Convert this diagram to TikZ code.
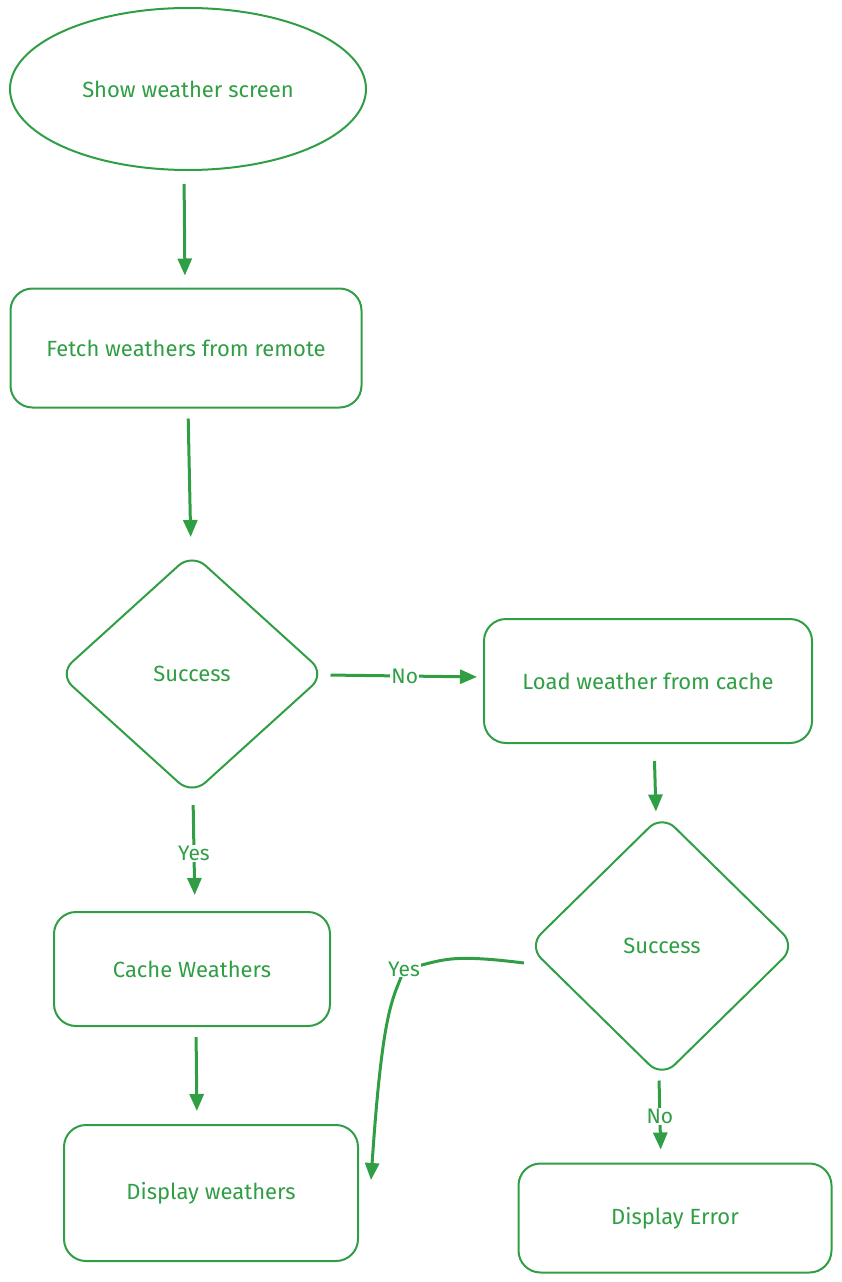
\documentclass[tikz,border=0pt]{standalone}
\usepackage{fontspec}
\setmainfont{Fira Sans}
\usepackage{tikz}
\usetikzlibrary{shapes.geometric,arrows.meta}
\definecolor{leaf}{RGB}{47,158,68}

\begin{document}
\begin{tikzpicture}[->,>={Triangle[length=17pt,width=14pt]},x=1pt,y=1pt,
  node distance=265pt,line width=3pt,leaf,
  main node/.style={rectangle,rounded corners=22pt,draw,line width=2pt,
    inner sep=0pt,font=\fontsize{22}{26}\selectfont},
  oval node/.style={main node,ellipse,minimum width=356pt,minimum height=162pt},
  test node/.style={main node,diamond,rounded corners=18pt},
  label node/.style={fill=white,inner sep=1pt,font=\fontsize{21}{24}\selectfont}]

  \useasboundingbox (0,0) rectangle (842,-1282);

  \node[oval node] (1) at (188,-89) {Show weather screen};
  \node[main node,minimum width=351pt,minimum height=119pt] (2)
    [below of=1,xshift=-2pt,yshift=6pt] {Fetch weathers from remote};
  \node[test node,minimum width=267pt,minimum height=242pt] (3)
    [below of=2,xshift=6pt,yshift=-61pt] {Success};
  \node[main node,minimum width=328pt,minimum height=124pt] (4)
    [right of=3,node distance=456pt,yshift=-7pt] {Load weather from cache};
  \node[test node,minimum width=268pt,minimum height=263pt] (5)
    [below of=4,xshift=14pt] {Success};
  \node[main node,minimum width=313pt,minimum height=109pt] (6)
    [below of=5,node distance=272pt,xshift=13pt] {Display Error};
  \node[main node,minimum width=276pt,minimum height=114pt] (7)
    [below of=3,node distance=295pt] {Cache Weathers};
  \node[main node,minimum width=294pt,minimum height=136pt] (8)
    [below of=7,node distance=224pt,xshift=19pt] {Display weathers};

  \path
    ([xshift=-4pt]1.south) edge[shorten <=13pt,shorten >=12pt] ([xshift=-1pt]2.north)
    ([xshift=2pt]2.south) edge[shorten <=10pt,shorten >=15pt] ([xshift=-1pt]3.north)
    ([yshift=-1pt]3.east) edge[shorten <=4pt,shorten >=6pt] node[label node] {No} ([yshift=4pt]4.west)
    ([xshift=1pt]3.south) edge[shorten <=9pt,shorten >=16pt] node[label node] {Yes} ([xshift=3pt]7.north)
    ([xshift=4pt]7.south) edge[shorten <=10pt,shorten >=13pt] ([xshift=-14pt]8.north)
    ([xshift=6pt]4.south) edge[shorten <=17pt,shorten >=2pt] ([xshift=-6pt]5.north)
    ([xshift=-3pt]5.south) edge[shorten <=2pt,shorten >=13pt] node[label node,pos=0.45] {No} ([xshift=-14pt]6.north);

  \draw ([xshift=-3pt,yshift=-17pt]5.west)
    .. controls +(-80,10) and +(40,8) .. (404,-969) node[label node] {Yes}
    .. controls +(-10,-30) and +(12,180) .. ([xshift=12pt,yshift=13pt]8.east);
\end{tikzpicture}
\end{document}
